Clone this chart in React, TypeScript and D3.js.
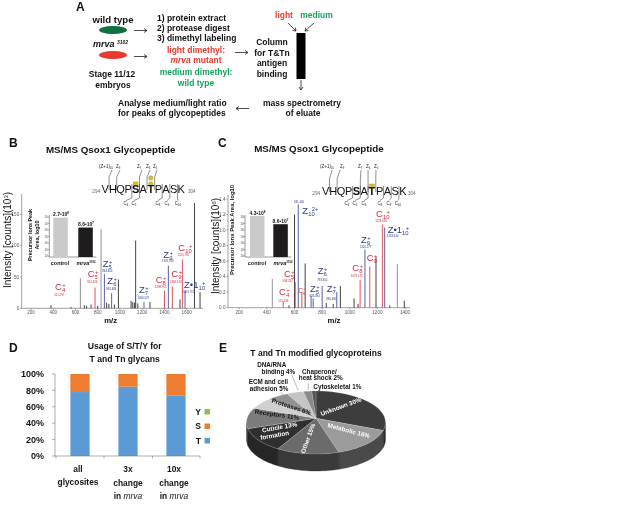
import React from "react";
import * as d3 from "d3";

const FONT = "'Liberation Sans', Arial, sans-serif";
const RED = "#e8392f";
const GREEN = "#12a45c";
const NAVY = "#2b3a8c";
const CRED = "#d9263a";

// ---------- spectra ----------
const bMz = [380, 560, 644, 680, 700, 740, 776, 800, 830, 860, 880, 900, 925, 950, 986, 1100, 1115, 1130, 1141, 1160, 1216, 1270, 1400, 1435, 1471, 1540, 1561, 1585, 1670, 1720];
const bInt = [5, 2, 48, 5, 4, 6, 33, 4, 126, 55, 9, 7, 24, 6, 46, 12, 10, 9, 108, 8, 10, 10, 28, 68, 35, 14, 78, 28, 168, 26];
const bKind = ["k", "k", "g", "k", "k", "k", "r", "k", "g", "b", "k", "k", "b", "k", "k", "k", "k", "k", "k", "k", "b", "k", "r", "b", "r", "k", "r", "b", "k", "k"];

const cMz = [439, 518, 560, 600, 605, 627, 653, 677, 720, 735, 800, 830, 880, 906, 932, 1031, 1060, 1075, 1110, 1145, 1190, 1236, 1253, 1290, 1345, 1395];
const cInt = [0.37, 0.08, 0.03, 1.2, 0.33, 1.33, 0.2, 0.57, 0.15, 0.12, 0.28, 0.06, 0.05, 0.2, 0.28, 0.12, 0.05, 0.36, 0.75, 0.53, 0.65, 1.07, 1.03, 0.03, 0.56, 0.09];
const cKind = ["g", "r", "k", "k", "r", "b", "r", "k", "b", "b", "b", "k", "k", "b", "k", "k", "k", "r", "b", "r", "k", "r", "b", "k", "g", "k"];

const bXTicks = [200, 400, 600, 800, 1000, 1200, 1400, 1600];
const bYTicks = [0, 50, 100, 150];
const cXTicks = [200, 400, 600, 800, 1000, 1200, 1400];
const cYTicks = [0, 0.2, 0.4, 0.6, 0.8, 1.0, 1.2, 1.4];

const residues = ["V", "H", "Q", "P", "S", "A", "T", "P", "A", "S", "K"];

// ---------- insets ----------
const insetCats = ["control", "mrva"];
const bInset = [2.7e8, 8.6e7];
const cInset = [4.3e8, 8.6e7];
const bInsetLabels = ["2.7", "8.6"];
const bInsetExp = ["8", "7"];
const cInsetLabels = ["4.3", "8.6"];
const insetTicks = [0, 1, 2, 3, 4, 5, 6];

// ---------- panel D ----------
const usageCats = ["all", "3x", "10x"];
const usageT = [78, 84.5, 74];
const usageS = [22, 15.5, 26];
const usageY = [0, 0, 0];
const usageTicks = [0, 20, 40, 60, 80, 100];

// ---------- panel E ----------
const pieNames = ["Unknown", "Metabolic", "Other", "Cuticle", "Receptors", "Proteases", "ECM", "DNA", "Chaperone", "Cytoskeletal"];
const pieValues = [30, 16, 15, 13, 11, 6, 5, 4, 2, 1];
const pieTop = ["#3d3d3d", "#9b9b9b", "#6b6b6b", "#2f2f2f", "#7c7c7c", "#cfcfcf", "#929292", "#c4c4c4", "#8a8a8a", "#555555"];
const pieSide = ["#2b2b2b", "#4a4a4a", "#3a3a3a", "#262626", "#333333", "#444444", "#444444", "#444444", "#444444", "#444444"];

function T({ x, y, s = 8, w = "bold", a = "start", c = "#111", i = false, r, children }: any) {
  return (
    <text x={x} y={y} fontSize={s} fontWeight={w} textAnchor={a} fill={c} fontStyle={i ? "italic" : "normal"}
      transform={r !== undefined ? `rotate(${r} ${x} ${y})` : undefined}>{children}</text>
  );
}

function Arrow({ x1, y1, x2, y2 }: any) {
  const ang = Math.atan2(y2 - y1, x2 - x1);
  const h = 3.6;
  const p = (d: number) => `${x2 - h * Math.cos(ang + d)},${y2 - h * Math.sin(ang + d)}`;
  return (
    <g stroke="#222" strokeWidth={0.8} fill="none">
      <line x1={x1} y1={y1} x2={x2} y2={y2} />
      <polyline points={`${p(0.6)} ${x2},${y2} ${p(-0.6)}`} />
    </g>
  );
}

function PeakLabel({ zx, zy, ox, base, sub, sup = "+", mass, mx, my, c, s = 9.5 }: any) {
  const x = ox + zx / 3;
  const y = 135 + zy / 3;
  return (
    <g fill={c}>
      <text x={x} y={y} fontSize={s} fontFamily={FONT}>
        {base}
        <tspan fontSize={s * 0.62} dy={2}>{sub}</tspan>
        <tspan fontSize={s * 0.62} dy={-5} dx={-s * 0.3}>{sup}</tspan>
      </text>
      {mass && <text x={ox + mx / 3} y={135 + my / 3} fontSize={2.8} textAnchor="middle">{mass}</text>}
    </g>
  );
}

function Spectrum({ mz, ints, kinds, x, y, x0, x1, yTop, xTicks, yTicks, fmt }: any) {
  const col: any = { k: "#111", g: "#777", r: CRED, b: NAVY };
  return (
    <g>
      <g stroke="#444" strokeWidth={0.5}>
        <line x1={x0} x2={x1} y1={y(0)} y2={y(0)} />
        <line x1={x0} x2={x0} y1={y(0)} y2={yTop} />
        {xTicks.map((t: number) => <line key={t} x1={x(t)} x2={x(t)} y1={y(0)} y2={y(0) + 1.5} />)}
        {yTicks.map((t: number) => <line key={t} x1={x0 - 1.5} x2={x0} y1={y(t)} y2={y(t)} />)}
      </g>
      {xTicks.map((t: number) => <T key={t} x={x(t)} y={314} s={4.6} w="normal" a="middle" c="#555">{t}</T>)}
      {yTicks.map((t: number) => <T key={t} x={x0 - 2.5} y={y(t) + 1.6} s={4.6} w="normal" a="end" c="#555">{fmt(t)}</T>)}
      {mz.map((m: number, i: number) => (
        <line key={i} x1={x(m)} x2={x(m)} y1={y(0)} y2={y(ints[i])} stroke={col[kinds[i]]} strokeWidth={0.8} />
      ))}
    </g>
  );
}

function Inset({ x0, xs, y, vals, labels, exps, labelXs, tickLabelX, catXs }: any) {
  const bottom = 257;
  const top = 215;
  const tick = d3.scaleLinear().domain([0, 6]).range([bottom - 1, top + 2]);
  return (
    <g>
      <line x1={x0} x2={x0} y1={top} y2={bottom} stroke="#333" strokeWidth={0.5} />
      <line x1={x0} x2={xs[1] + 18} y1={bottom} y2={bottom} stroke="#333" strokeWidth={0.5} />
      {insetTicks.map((t: number) => (
        <g key={t}>
          <line x1={x0 - 1.5} x2={x0} y1={tick(t)} y2={tick(t)} stroke="#333" strokeWidth={0.4} />
          <text x={tickLabelX} y={tick(t) + 1} fontSize={2.8} fill="#444" textAnchor="end">10</text>
        </g>
      ))}
      <rect x={xs[0]} width={14.5} y={y(vals[0])} height={bottom - y(vals[0])} fill="#c9cacb" />
      <rect x={xs[1]} width={14.5} y={y(vals[1])} height={bottom - y(vals[1])} fill="#1f1c1d" />
      {vals.map((v: number, i: number) => (
        <text key={i} x={labelXs[i]} y={y(v) - 1.2} fontSize={5} fontWeight="bold" textAnchor="middle" fill="#111">
          {labels[i]}•10<tspan fontSize={3} dy={-2}>{exps[i]}</tspan>
        </text>
      ))}
      <T x={catXs[0]} y={265} s={5.4} a="middle">{insetCats[0]}</T>
      <text x={catXs[1]} y={265} fontSize={5.4} fontWeight="bold" textAnchor="middle" fill="#111">
        <tspan fontStyle="italic">{insetCats[1]}</tspan><tspan fontSize={2.8} dy={-2}>3102</tspan>
      </text>
    </g>
  );
}

function Peptide({ x0, x1, baseY, n1x, n2x, squares, circles, tops, bots, topLabels, botLabels }: any) {
  const band = d3.scaleBand<number>().domain(d3.range(residues.length + 1)).range([x0, x1 + (x1 - x0) / residues.length]);
  const step = band.step();
  const topY = 168;
  const botY = 205;
  const lineTop = baseY - 19;
  const lineBot = baseY + 3;
  return (
    <g>
      {squares.map((i: number) => (
        <rect key={i} x={band(i)! + step / 2 - 2.2} y={baseY - 11} width={4.5} height={4.5} fill="#e8c21a" stroke="#555" strokeWidth={0.3} />
      ))}
      {circles.map((dy: number, i: number) => (
        <circle key={i} cx={band(6)! + step / 2} cy={baseY - 9 - dy} r={2.2} fill="#e8c21a" stroke="#555" strokeWidth={0.3} />
      ))}
      <g stroke="#333" strokeWidth={0.55} fill="none">
        {tops.map((t: any, i: number) => {
          const gx = band(t.gap)!;
          return <polyline key={"t" + i} points={`${t.lx},${topY + 2} ${gx},${lineTop + 3} ${gx},${lineBot - 6}`} />;
        })}
        {bots.map((t: any, i: number) => {
          const gx = band(t.gap)!;
          return <polyline key={"b" + i} points={`${gx},${baseY - 9} ${gx},${botY - 7} ${t.lx},${botY - 4.5}`} />;
        })}
      </g>
      {residues.map((r, i) => (
        <T key={i} x={band(i)! + step / 2} y={baseY} s={11} w={i === 4 || i === 6 ? "bold" : "normal"} a="middle" c="#111">{r}</T>
      ))}
      <T x={n1x} y={baseY - 0.5} s={4.6} w="normal" a="end" c="#666">294</T>
      <T x={n2x} y={baseY - 0.5} s={4.6} w="normal" c="#666">304</T>
      {topLabels.map((l: any, i: number) => (
        <text key={i} x={l.x} y={topY} fontSize={4.5} fill="#222">{l.t}<tspan fontSize={2.8} dy={1}>{l.s}</tspan></text>
      ))}
      {botLabels.map((l: any, i: number) => (
        <text key={i} x={l.x} y={botY} fontSize={4.5} fill="#222" textAnchor="middle">C<tspan fontSize={2.8} dy={1}>{l.s}</tspan></text>
      ))}
    </g>
  );
}

function Usage() {
  const x = d3.scaleBand<string>().domain(usageCats).range([56, 200]).paddingInner(0.6).paddingOuter(0.3);
  const y = d3.scaleLinear().domain([0, 100]).range([456, 374]);
  const rows = usageCats.map((c, i) => ({ c, T: usageT[i], S: usageS[i], Y: usageY[i] }));
  const stack = d3.stack<any>().keys(["T", "S", "Y"])(rows);
  const col = ["#5b9bd5", "#ed7d31", "#8fc050"];
  const boundaries = [56, 104, 152.5, 200];
  return (
    <g>
      {stack.map((s, k) => s.map((d, i) => (
        <rect key={k + "-" + i} x={x(usageCats[i])} width={x.bandwidth()} y={y(d[1])} height={Math.max(0, y(d[0]) - y(d[1]))} fill={col[k]} />
      )))}
      <g stroke="#777" strokeWidth={0.6}>
        <line x1={55} x2={200} y1={456} y2={456} />
        <line x1={55} x2={55} y1={374} y2={456} />
        {usageTicks.map((t) => <line key={t} x1={52} x2={55} y1={y(t)} y2={y(t)} />)}
        {boundaries.map((b) => <line key={b} x1={b} x2={b} y1={456} y2={458.5} />)}
      </g>
      {usageTicks.map((t) => <T key={t} x={44} y={y(t) + 3.2} s={9} a="end">{t}%</T>)}
      <T x={124.7} y={349} s={8.6} a="middle">Usage of S/T/Y for</T>
      <T x={124.7} y={361.5} s={8.6} a="middle">T and Tn glycans</T>
      <T x={78} y={472} s={8.4} a="middle">all</T>
      <T x={78} y={485} s={8.4} a="middle">glycosites</T>
      <T x={128} y={472} s={8.4} a="middle">3x</T>
      <T x={128} y={486} s={8.4} a="middle">change</T>
      <text x={128} y={499} fontSize={8.4} fontWeight="bold" textAnchor="middle" fill="#111">in <tspan fontStyle="italic" fontWeight="normal">mrva</tspan></text>
      <T x={174} y={472} s={8.4} a="middle">10x</T>
      <T x={174} y={486} s={8.4} a="middle">change</T>
      <text x={174} y={499} fontSize={8.4} fontWeight="bold" textAnchor="middle" fill="#111">in <tspan fontStyle="italic" fontWeight="normal">mrva</tspan></text>
      {[["Y", 2, 411.5], ["S", 1, 426], ["T", 0, 440.5]].map(([l, k, yy]: any) => (
        <g key={l}>
          <T x={201} y={yy + 3} s={8.6} a="end">{l}</T>
          <rect x={204.5} y={yy - 2.5} width={5.5} height={5.5} fill={col[k]} />
        </g>
      ))}
    </g>
  );
}

function Pie3D() {
  const cx = 316, cy = 422.5, rx = 69.5, ry = 31.5, apexY = 418.3, depth = 17;
  const arcs = d3.pie<number>().sort(null)(pieValues);
  const px = (a: number) => cx + rx * Math.sin(a);
  const py = (a: number) => cy - ry * Math.cos(a);
  const line = d3.line<[number, number]>();
  const sample = (a0: number, a1: number) => d3.range(0, 25).map((k) => a0 + (a1 - a0) * k / 24);
  return (
    <g>
      {arcs.map((d, i) => {
        const a0 = Math.max(d.startAngle, Math.PI / 2);
        const a1 = Math.min(d.endAngle, (3 * Math.PI) / 2);
        if (a1 <= a0) return null;
        const pts = sample(a0, a1);
        const up: [number, number][] = pts.map((a) => [px(a), py(a)]);
        const dn: [number, number][] = pts.slice().reverse().map((a) => [px(a), py(a) + depth]);
        return <path key={i} d={line([...up, ...dn])! + "Z"} fill={pieSide[i]} stroke="#222" strokeWidth={0.3} />;
      })}
      {arcs.map((d, i) => {
        const pts: [number, number][] = sample(d.startAngle, d.endAngle).map((a) => [px(a), py(a)]);
        return <path key={pieNames[i]} d={line([[cx, apexY], ...pts])! + "Z"} fill={pieTop[i]} stroke="#eee" strokeWidth={0.2} />;
      })}
    </g>
  );
}

function PieLabels() {
  const z = (a: number, b: number) => [220 + a / 3, 340 + b / 3];
  const items: any[] = [
    ["Unknown 30%", 365, 206, -20, "#fff"],
    ["Metabolic 16%", 385, 278, 15, "#fff"],
    ["Other 15%", 270, 297, -70, "#fff"],
    ["Cuticle  13%", 180, 268, -10, "#fff"],
    ["formation", 165, 292, -10, "#fff"],
    ["Receptors 11%", 170, 230, 8, "#111"],
    ["Proteases 6%", 212, 206, 18, "#111"],
    ["ECM and cell", 145, 132, 0, "#111"],
    ["adhesion 5%", 147, 152, 0, "#111"],
    ["DNA/RNA", 155, 81, 0, "#111"],
    ["binding 4%", 175, 103, 0, "#111"],
    ["Chaperone/", 298, 101, 0, "#111"],
    ["heat shock 2%", 302, 120, 0, "#111"],
    ["Cytoskeletal 1%", 352, 146, 0, "#111"],
  ];
  return (
    <g>
      {items.map(([t, a, b, r, c]) => {
        const [x, y] = z(a, b);
        return <T key={t} x={x} y={y} s={6.3} a="middle" c={c} r={r}>{t}</T>;
      })}
      <g stroke="#555" strokeWidth={0.4}>
        <line x1={220 + 215 / 3} y1={340 + 105 / 3} x2={220 + 235 / 3} y2={340 + 152 / 3} />
        <line x1={220 + 265 / 3} y1={340 + 130 / 3} x2={220 + 265 / 3} y2={340 + 150 / 3} />
        <line x1={220 + 183 / 3} y1={340 + 157 / 3} x2={220 + 188 / 3} y2={340 + 165 / 3} />
      </g>
    </g>
  );
}

export default function App() {
  const bx = d3.scaleLinear().domain([200, 1600]).range([31, 186.7]);
  const by = d3.scaleLinear().domain([0, 150]).range([308.3, 214.3]);
  const cx = d3.scaleLinear().domain([200, 1400]).range([239.3, 405]);
  const cy = d3.scaleLinear().domain([0, 1.4]).range([307.7, 199]);
  const biy = d3.scaleLog().domain([10 ** 6.45, 10 ** 8.43]).range([257, 217.7]);
  const ciy = d3.scaleLog().domain([10 ** 5.16, 10 ** 8.63]).range([257, 216]);
  const A = 8.5;

  return (
    <svg width={617} height={509} viewBox="0 0 617 509" fontFamily={FONT}
      style={{ position: "absolute", left: 0, top: 0, filter: "blur(0.35px)", background: "#fff" }}>
      {/* Panel A */}
      <T x={76} y={11} s={12}>A</T>
      <T x={113} y={23} s={9.6} a="middle">wild type</T>
      <ellipse cx={113} cy={30} rx={14} ry={4} fill="#0f7040" />
      <text x={93} y={47} fontSize={9} fontStyle="italic" fontWeight="bold" fill="#111">mrva <tspan fontSize={5} dy={-3}>3102</tspan></text>
      <ellipse cx={113} cy={55} rx={14} ry={4} fill={RED} />
      <Arrow x1={134} y1={30.5} x2={147} y2={30.5} />
      <Arrow x1={134} y1={56.5} x2={147} y2={56.5} />
      <T x={157} y={20.5} s={A}>1) protein extract</T>
      <T x={157} y={31} s={A}>2) protease digest</T>
      <T x={157} y={41} s={A}>3) dimethyl labeling</T>
      <T x={196} y={52.5} s={A} a="middle" c={RED}>light dimethyl:</T>
      <text x={196} y={63} fontSize={A} fontWeight="bold" textAnchor="middle" fill={RED}><tspan fontStyle="italic">mrva</tspan> mutant</text>
      <T x={196} y={75} s={A} a="middle" c={GREEN}>medium dimethyl:</T>
      <T x={196} y={85.5} s={A} a="middle" c={GREEN}>wild type</T>
      <T x={112} y={77} s={A} a="middle">Stage 11/12</T>
      <T x={113} y={87.5} s={A} a="middle">embryos</T>
      <Arrow x1={235} y1={52.5} x2={248} y2={52.5} />
      <T x={272} y={45} s={A} a="middle">Column</T>
      <T x={272} y={55.5} s={A} a="middle">for T&amp;Tn</T>
      <T x={272} y={66} s={A} a="middle">antigen</T>
      <T x={272} y={76.5} s={A} a="middle">binding</T>
      <T x={284} y={18} s={A} a="middle" c={RED}>light</T>
      <T x={316.5} y={18} s={A} a="middle" c={GREEN}>medium</T>
      <Arrow x1={288} y1={23} x2={296} y2={31} />
      <Arrow x1={314} y1={23} x2={305} y2={31} />
      <rect x={296.5} y={33} width={9} height={46} fill="#000" />
      <Arrow x1={301} y1={80} x2={301} y2={90} />
      <T x={302} y={105.5} s={A} a="middle">mass spectrometry</T>
      <T x={303} y={116} s={A} a="middle">of eluate</T>
      <Arrow x1={249} y1={108.5} x2={236} y2={108.5} />
      <T x={118} y={105.5} s={A}>Analyse medium/light ratio</T>
      <T x={118} y={116} s={A}>for peaks of glycopeptides</T>

      {/* Panel B */}
      <T x={9} y={147} s={12}>B</T>
      <T x={110.7} y={152.5} s={9.8} a="middle">MS/MS Qsox1 Glycopeptide</T>
      <Spectrum mz={bMz} ints={bInt} kinds={bKind} x={bx} y={by} x0={21.7} x1={203} yTop={194}
        xTicks={bXTicks} yTicks={bYTicks} fmt={(t: number) => String(t)} />
      <text transform="translate(11,240) rotate(-90)" fontSize={10} textAnchor="middle" fill="#111">Intensity [counts](10<tspan fontSize={6} dy={-3}>3</tspan><tspan dy={3}>)</tspan></text>
      <T x={110.7} y={323} s={7.8} a="middle">m/z</T>
      <Peptide x0={101.5} x1={185} baseY={193} n1x={100} n2x={188} squares={[4]} circles={[0, 6]}
        tops={[{ gap: 1, lx: 112 }, { gap: 2, lx: 120 }, { gap: 5, lx: 142 }, { gap: 6, lx: 150 }, { gap: 7, lx: 157 }]}
        bots={[{ gap: 4, lx: 126 }, { gap: 5, lx: 134 }, { gap: 8, lx: 158 }, { gap: 9, lx: 167 }, { gap: 10, lx: 178 }]}
        topLabels={[{ x: 99, t: "(Z+1)", s: "10" }, { x: 116, t: "Z", s: "9" }, { x: 137, t: "Z", s: "7" }, { x: 146, t: "Z", s: "6" }, { x: 153, t: "Z", s: "5" }]}
        botLabels={[{ x: 126, s: "4" }, { x: 134, s: "5" }, { x: 158, s: "8" }, { x: 167, s: "9" }, { x: 178, s: "10" }]} />
      <Inset x0={49.3} xs={[53.3, 78.3]} y={biy} vals={bInset} labels={bInsetLabels} exps={bInsetExp} labelXs={[61, 86]} tickLabelX={47.5} catXs={[60, 86]} />
      <text transform="translate(32,235) rotate(-90)" fontSize={5.4} fontWeight="bold" textAnchor="middle" fill="#111">Precursor Ions Peak</text>
      <text transform="translate(38.5,235) rotate(-90)" fontSize={5.4} fontWeight="bold" textAnchor="middle" fill="#111">Area, log10</text>
      <PeakLabel ox={0} zx={165} zy={465} base="C" sub="4" mx={178} my={482} mass="511.297" c={CRED} />
      <PeakLabel ox={0} zx={263} zy={425} base="C" sub="5" mx={277} my={445} mass="801.426" c={CRED} />
      <PeakLabel ox={0} zx={308} zy={397} base="Z" sub="5" mx={322} my={412} mass="864.400" c={NAVY} />
      <PeakLabel ox={0} zx={322} zy={448} base="Z" sub="6" mx={334} my={465} mass="965.484" c={NAVY} />
      <PeakLabel ox={0} zx={417} zy={475} base="Z" sub="7" mx={430} my={492} mass="1066.537" c={NAVY} />
      <PeakLabel ox={0} zx={467} zy={445} base="C" sub="8" mx={482} my={460} mass="1298.705" c={CRED} />
      <PeakLabel ox={0} zx={514} zy={425} base="C" sub="9" mx={527} my={444} mass="1369.742" c={CRED} />
      <PeakLabel ox={0} zx={490} zy={368} base="Z" sub="9" mx={503} my={382} mass="1376.768" c={NAVY} />
      <PeakLabel ox={0} zx={535} zy={347} base="C" sub="10" mx={550} my={362} mass="1526.795" c={CRED} />
      <PeakLabel ox={0} zx={552} zy={460} base="Z•1" sub="10" mx={565} my={475} mass="1463.751" c={NAVY} />

      {/* Panel C */}
      <T x={218} y={147} s={12}>C</T>
      <T x={319} y={151.5} s={9.8} a="middle">MS/MS Qsox1 Glycopeptide</T>
      <Spectrum mz={cMz} ints={cInt} kinds={cKind} x={cx} y={cy} x0={228} x1={410} yTop={195}
        xTicks={cXTicks} yTicks={cYTicks} fmt={(t: number) => t.toFixed(1)} />
      <text transform="translate(219,246) rotate(-90)" fontSize={10} textAnchor="middle" fill="#111">Intensity [counts](10<tspan fontSize={6} dy={-3}>6</tspan><tspan dy={3}>)</tspan></text>
      <T x={334} y={323} s={7.8} a="middle">m/z</T>
      <Peptide x0={321.7} x1={406.7} baseY={195} n1x={320} n2x={408} squares={[6]} circles={[]}
        tops={[{ gap: 1, lx: 332 }, { gap: 2, lx: 340 }, { gap: 5, lx: 361 }, { gap: 6, lx: 368 }, { gap: 7, lx: 376 }]}
        bots={[{ gap: 4, lx: 347 }, { gap: 5, lx: 355 }, { gap: 6, lx: 364 }, { gap: 8, lx: 380 }, { gap: 9, lx: 389 }, { gap: 10, lx: 398 }]}
        topLabels={[{ x: 320, t: "(Z+1)", s: "10" }, { x: 340, t: "Z", s: "9" }, { x: 358, t: "Z", s: "7" }, { x: 366, t: "Z", s: "6" }, { x: 374, t: "Z", s: "5" }]}
        botLabels={[{ x: 347, s: "4" }, { x: 355, s: "5" }, { x: 364, s: "6" }, { x: 380, s: "8" }, { x: 389, s: "9" }, { x: 398, s: "10" }]} />
      <Inset x0={245} xs={[250, 273.3]} y={ciy} vals={cInset} labels={cInsetLabels} exps={bInsetExp} labelXs={[257.5, 280.5]} tickLabelX={243.5} catXs={[257, 283]} />
      <text transform="translate(234,230) rotate(-90)" fontSize={5.9} fontWeight="bold" textAnchor="middle" fill="#111">Precursor Ions Peak Area, log10</text>
      <PeakLabel ox={210} zx={222} zy={425} base="C" sub="5" mx={233} my={440} mass="588.332" c={CRED} />
      <PeakLabel ox={210} zx={207} zy={480} base="C" sub="4" mx={220} my={502} mass="511.339" c={CRED} />
      <PeakLabel ox={210} zx={265} zy={475} base="C" sub="6" s={6.5} c={CRED} />
      <PeakLabel ox={210} zx={277} zy={237} base="Z" sub="10" sup="2+" mx={267} my={205} mass="631.400" c={NAVY} />
      <PeakLabel ox={210} zx={300} zy={472} base="Z" sub="5" mx={314} my={486} mass="683.394" c={NAVY} />
      <PeakLabel ox={210} zx={323} zy={418} base="Z" sub="6" mx={337} my={438} mass="793.450" c={NAVY} />
      <PeakLabel ox={210} zx={350} zy={472} base="Z" sub="7" mx={364} my={494} mass="890.490" c={NAVY} />
      <PeakLabel ox={210} zx={427} zy={408} base="C" sub="8" mx={440} my={425} mass="1078.575" c={CRED} />
      <PeakLabel ox={210} zx={470} zy={378} base="C" sub="9" c={CRED} />
      <PeakLabel ox={210} zx={453} zy={323} base="Z" sub="9" mx={467} my={340} mass="1105.577" c={NAVY} />
      <PeakLabel ox={210} zx={498} zy={245} base="C" sub="10" mx={513} my={260} mass="1228.618" c={CRED} />
      <PeakLabel ox={210} zx={533} zy={293} base="Z•1" sub="10" mx={548} my={305} mass="1263.640" c={NAVY} />

      {/* Panel D */}
      <T x={9} y={352} s={12}>D</T>
      <Usage />

      {/* Panel E */}
      <T x={219} y={352} s={12}>E</T>
      <T x={316} y={356} s={8.5} a="middle">T and Tn modified glycoproteins</T>
      <Pie3D />
      <PieLabels />
    </svg>
  );
}
